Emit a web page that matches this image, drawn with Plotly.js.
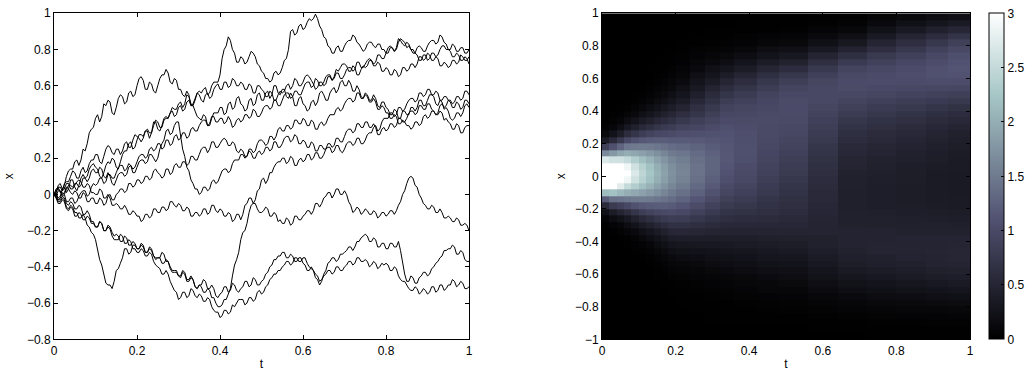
<!DOCTYPE html>
<html>
<head>
<meta charset="utf-8">
<script src="https://cdn.plot.ly/plotly-3.0.1.min.js"></script>
<style>
  html, body { margin: 0; padding: 0; background: #ffffff; }
  #chart { width: 1034px; height: 371px; }
</style>
</head>
<body>
<div id="chart"></div>
<script>
// Sample paths x(t) at t = 0, 0.01, ..., 1 ...
const path1 = [0,0.05,0.03,0.10,0.14,0.18,0.16,0.25,0.28,0.36,
  0.42,0.40,0.50,0.52,0.45,0.48,0.55,0.50,0.56,0.54,
  0.60,0.65,0.58,0.62,0.57,0.60,0.66,0.69,0.62,0.64,
  0.58,0.55,0.57,0.49,0.46,0.42,0.44,0.38,0.42,0.45,
  0.48,0.44,0.50,0.47,0.53,0.50,0.46,0.52,0.49,0.55,
  0.52,0.56,0.53,0.60,0.56,0.58,0.54,0.56,0.49,0.53,
  0.50,0.46,0.51,0.49,0.56,0.55,0.52,0.58,0.56,0.62,
  0.60,0.63,0.57,0.60,0.54,0.56,0.52,0.55,0.49,0.51,
  0.48,0.44,0.47,0.42,0.46,0.44,0.48,0.46,0.52,0.49,
  0.52,0.55,0.50,0.52,0.47,0.46,0.41,0.45,0.43,0.49,
  0.48];
const path2 = [0,-0.02,0.03,0.01,0.08,0.04,0.05,0.11,0.10,0.16,
  0.15,0.10,0.12,0.18,0.20,0.15,0.18,0.24,0.28,0.25,
  0.30,0.33,0.35,0.31,0.40,0.36,0.38,0.43,0.45,0.47,
  0.50,0.48,0.55,0.50,0.52,0.57,0.58,0.55,0.60,0.62,
  0.66,0.80,0.87,0.80,0.73,0.76,0.72,0.76,0.78,0.72,
  0.68,0.64,0.62,0.67,0.66,0.70,0.75,0.90,0.88,0.93,
  0.91,0.95,0.96,0.995,0.93,0.87,0.82,0.78,0.81,0.79,
  0.82,0.85,0.88,0.84,0.81,0.80,0.84,0.82,0.83,0.80,
  0.78,0.81,0.79,0.84,0.85,0.81,0.80,0.78,0.82,0.79,
  0.82,0.85,0.83,0.88,0.84,0.80,0.76,0.78,0.74,0.76,
  0.72];
const path3 = [0,0.04,0.02,0.07,0.10,0.12,0.09,0.15,0.13,0.19,
  0.22,0.18,0.21,0.27,0.23,0.25,0.22,0.28,0.26,0.30,
  0.32,0.29,0.35,0.34,0.38,0.40,0.37,0.42,0.45,0.43,
  0.48,0.46,0.51,0.49,0.53,0.55,0.51,0.56,0.54,0.60,
  0.58,0.62,0.59,0.64,0.60,0.62,0.58,0.61,0.56,0.60,
  0.58,0.54,0.57,0.52,0.55,0.56,0.60,0.58,0.64,0.60,
  0.62,0.66,0.63,0.58,0.62,0.60,0.65,0.63,0.69,0.70,
  0.72,0.68,0.71,0.66,0.69,0.70,0.74,0.72,0.77,0.75,
  0.78,0.82,0.79,0.86,0.83,0.84,0.80,0.78,0.74,0.77,
  0.74,0.78,0.76,0.80,0.82,0.80,0.83,0.79,0.81,0.78,
  0.80];
const path4 = [0,0.02,-0.01,0.03,0.05,0.06,0.04,0.09,0.07,0.13,
  0.12,0.15,0.10,0.12,0.06,0.08,0.12,0.10,0.15,0.14,
  0.18,0.22,0.20,0.25,0.24,0.28,0.25,0.30,0.27,0.32,
  0.30,0.34,0.31,0.36,0.35,0.38,0.41,0.38,0.43,0.40,
  0.42,0.39,0.43,0.37,0.41,0.40,0.44,0.42,0.47,0.43,
  0.45,0.49,0.47,0.52,0.49,0.52,0.56,0.53,0.57,0.55,
  0.58,0.62,0.59,0.64,0.60,0.62,0.66,0.63,0.67,0.64,
  0.66,0.70,0.68,0.73,0.70,0.72,0.75,0.71,0.73,0.68,
  0.70,0.66,0.69,0.65,0.70,0.68,0.72,0.70,0.76,0.74,
  0.78,0.74,0.76,0.71,0.73,0.70,0.74,0.72,0.77,0.74,
  0.76];
const path5 = [0,-0.03,0.01,-0.04,-0.02,-0.05,-0.01,0.02,-0.01,0.04,
  0.05,0.09,0.06,0.11,0.09,0.12,0.16,0.13,0.17,0.12,
  0.15,0.19,0.17,0.22,0.20,0.20,0.28,0.35,0.33,0.38,
  0.40,0.25,0.15,0.08,0.03,0.00,0.04,0.02,0.07,0.06,
  0.10,0.14,0.12,0.17,0.19,0.22,0.20,0.25,0.23,0.28,
  0.30,0.27,0.32,0.30,0.36,0.35,0.38,0.36,0.41,0.39,
  0.42,0.38,0.41,0.36,0.39,0.38,0.42,0.44,0.47,0.46,
  0.50,0.53,0.51,0.56,0.53,0.55,0.51,0.53,0.47,0.49,
  0.45,0.42,0.44,0.39,0.41,0.38,0.36,0.40,0.38,0.43,
  0.42,0.46,0.44,0.49,0.48,0.52,0.50,0.54,0.52,0.57,
  0.55];
const path6 = [0,0.03,0.00,0.04,0.01,0.02,-0.02,0.01,-0.04,-0.02,
  -0.05,-0.02,-0.06,-0.01,-0.03,0.00,0.03,0.01,0.06,0.04,
  0.08,0.06,0.10,0.08,0.13,0.12,0.09,0.14,0.11,0.16,
  0.15,0.18,0.16,0.21,0.19,0.22,0.26,0.23,0.29,0.26,
  0.28,0.31,0.27,0.29,0.24,0.25,0.21,0.24,0.20,0.23,
  0.22,0.26,0.24,0.29,0.26,0.28,0.32,0.29,0.33,0.28,
  0.30,0.26,0.29,0.24,0.27,0.25,0.28,0.26,0.31,0.29,
  0.32,0.36,0.34,0.39,0.37,0.40,0.37,0.39,0.33,0.36,
  0.35,0.39,0.37,0.42,0.40,0.42,0.46,0.44,0.49,0.47,
  0.50,0.47,0.44,0.46,0.41,0.40,0.36,0.39,0.34,0.37,
  0.38];
const path7 = [0,-0.03,-0.01,-0.05,-0.04,-0.08,-0.06,-0.11,-0.09,-0.15,
  -0.18,-0.15,-0.20,-0.17,-0.21,-0.22,-0.26,-0.23,-0.28,-0.26,
  -0.30,-0.28,-0.32,-0.30,-0.34,-0.35,-0.32,-0.37,-0.40,-0.42,
  -0.45,-0.43,-0.48,-0.46,-0.51,-0.50,-0.54,-0.52,-0.57,-0.60,
  -0.62,-0.58,-0.55,-0.45,-0.36,-0.25,-0.20,-0.10,-0.05,0.02,
  0.08,0.06,0.12,0.15,0.18,0.20,0.17,0.21,0.16,0.19,
  0.18,0.22,0.19,0.23,0.20,0.22,0.26,0.23,0.27,0.24,
  0.25,0.29,0.27,0.31,0.28,0.30,0.34,0.37,0.35,0.40,
  0.42,0.45,0.43,0.48,0.46,0.50,0.53,0.51,0.56,0.54,
  0.58,0.55,0.57,0.52,0.54,0.52,0.48,0.51,0.47,0.52,
  0.50];
const path8 = [0,0.04,0.02,0.06,0.03,0.05,0.08,0.04,0.06,0.01,
  0.00,0.03,-0.02,0.00,-0.06,-0.05,-0.08,-0.06,-0.11,-0.09,
  -0.12,-0.15,-0.11,-0.13,-0.08,-0.10,-0.07,-0.09,-0.04,-0.06,
  -0.05,-0.09,-0.07,-0.12,-0.10,-0.12,-0.08,-0.11,-0.06,-0.09,
  -0.08,-0.12,-0.10,-0.15,-0.11,-0.14,-0.06,-0.02,-0.05,-0.08,
  -0.10,-0.07,-0.12,-0.10,-0.15,-0.16,-0.13,-0.17,-0.12,-0.14,
  -0.12,-0.09,-0.11,-0.05,-0.07,-0.02,0.01,-0.02,0.03,0.00,
  0.02,-0.04,-0.10,-0.07,-0.11,-0.08,-0.11,-0.09,-0.13,-0.10,
  -0.12,-0.09,-0.11,-0.06,0.00,0.06,0.10,0.05,0.00,-0.05,
  -0.08,-0.06,-0.10,-0.08,-0.13,-0.12,-0.15,-0.13,-0.17,-0.16,
  -0.20];
const path9 = [0,-0.04,-0.02,-0.07,-0.06,-0.10,-0.13,-0.11,-0.17,-0.21,
  -0.25,-0.36,-0.45,-0.50,-0.52,-0.42,-0.38,-0.30,-0.33,-0.28,
  -0.30,-0.27,-0.32,-0.29,-0.34,-0.35,-0.38,-0.36,-0.41,-0.43,
  -0.45,-0.42,-0.47,-0.45,-0.51,-0.50,-0.47,-0.52,-0.50,-0.56,
  -0.55,-0.51,-0.54,-0.49,-0.53,-0.52,-0.48,-0.51,-0.46,-0.50,
  -0.48,-0.44,-0.40,-0.36,-0.34,-0.32,-0.35,-0.33,-0.37,-0.35,
  -0.38,-0.42,-0.40,-0.46,-0.50,-0.44,-0.38,-0.35,-0.37,-0.33,
  -0.32,-0.29,-0.31,-0.26,-0.24,-0.22,-0.26,-0.24,-0.29,-0.27,
  -0.30,-0.27,-0.29,-0.26,-0.38,-0.48,-0.45,-0.49,-0.46,-0.43,
  -0.45,-0.41,-0.38,-0.35,-0.31,-0.30,-0.28,-0.33,-0.31,-0.36,
  -0.37];
const path10 = [0,-0.05,-0.03,-0.08,-0.07,-0.12,-0.10,-0.14,-0.12,-0.16,
  -0.18,-0.15,-0.20,-0.18,-0.23,-0.25,-0.22,-0.27,-0.25,-0.30,
  -0.32,-0.30,-0.34,-0.32,-0.37,-0.40,-0.44,-0.42,-0.48,-0.53,
  -0.58,-0.54,-0.57,-0.52,-0.56,-0.55,-0.59,-0.57,-0.62,-0.65,
  -0.68,-0.64,-0.66,-0.61,-0.60,-0.58,-0.61,-0.57,-0.59,-0.54,
  -0.55,-0.51,-0.47,-0.44,-0.42,-0.40,-0.37,-0.39,-0.35,-0.37,
  -0.35,-0.38,-0.41,-0.44,-0.48,-0.45,-0.42,-0.44,-0.40,-0.42,
  -0.40,-0.37,-0.39,-0.35,-0.37,-0.36,-0.40,-0.37,-0.41,-0.38,
  -0.38,-0.42,-0.40,-0.45,-0.48,-0.50,-0.53,-0.51,-0.55,-0.52,
  -0.55,-0.51,-0.54,-0.50,-0.53,-0.50,-0.47,-0.51,-0.48,-0.52,
  -0.51];

// ... and the in-between values at t = 0.005, 0.015, ..., 0.995
const path1Mid = [0.01,0.06,0.05,0.13,0.14,0.19,0.19,0.24,0.34,0.37,
  0.44,0.43,0.49,0.51,0.44,0.53,0.54,0.51,0.57,0.55,
  0.64,0.63,0.58,0.61,0.56,0.64,0.66,0.67,0.61,0.63,
  0.58,0.54,0.55,0.49,0.43,0.41,0.43,0.38,0.45,0.45,
  0.48,0.45,0.51,0.48,0.54,0.49,0.47,0.53,0.50,0.56,
  0.52,0.57,0.55,0.60,0.55,0.58,0.53,0.54,0.49,0.54,
  0.49,0.47,0.52,0.51,0.57,0.52,0.56,0.59,0.58,0.63,
  0.60,0.61,0.57,0.58,0.53,0.55,0.52,0.53,0.48,0.51,
  0.47,0.44,0.46,0.42,0.46,0.44,0.48,0.48,0.52,0.49,
  0.55,0.54,0.49,0.51,0.48,0.42,0.42,0.45,0.45,0.50];
const path2Mid = [0.01,-0.01,0.04,0.03,0.08,0.02,0.09,0.09,0.14,0.17,
  0.14,0.09,0.16,0.17,0.19,0.14,0.22,0.24,0.29,0.26,
  0.33,0.32,0.35,0.34,0.40,0.35,0.42,0.42,0.48,0.47,
  0.51,0.50,0.54,0.49,0.56,0.56,0.59,0.56,0.62,0.62,
  0.75,0.82,0.85,0.78,0.73,0.75,0.73,0.79,0.76,0.71,
  0.67,0.64,0.63,0.68,0.67,0.74,0.80,0.91,0.89,0.94,
  0.92,0.97,0.97,0.97,0.91,0.86,0.81,0.78,0.82,0.79,
  0.84,0.85,0.87,0.83,0.79,0.83,0.84,0.81,0.83,0.80,
  0.78,0.81,0.80,0.86,0.84,0.82,0.78,0.81,0.81,0.79,
  0.84,0.85,0.84,0.87,0.83,0.79,0.76,0.77,0.74,0.75];
const path3Mid = [0.03,0.01,0.06,0.07,0.13,0.09,0.13,0.12,0.17,0.19,
  0.22,0.17,0.25,0.26,0.22,0.25,0.24,0.29,0.26,0.33,
  0.31,0.31,0.36,0.34,0.41,0.37,0.41,0.42,0.46,0.44,
  0.49,0.47,0.52,0.50,0.56,0.52,0.55,0.53,0.58,0.61,
  0.58,0.62,0.60,0.63,0.60,0.61,0.58,0.60,0.56,0.60,
  0.57,0.54,0.56,0.52,0.57,0.57,0.61,0.60,0.63,0.60,
  0.65,0.65,0.61,0.59,0.62,0.61,0.65,0.65,0.68,0.72,
  0.71,0.68,0.70,0.66,0.71,0.71,0.74,0.73,0.77,0.75,
  0.81,0.81,0.81,0.85,0.82,0.83,0.80,0.77,0.74,0.77,
  0.75,0.78,0.77,0.82,0.80,0.80,0.82,0.79,0.81,0.78];
const path4Mid = [-0.01,0.02,0.00,0.05,0.04,0.06,0.05,0.09,0.09,0.14,
  0.12,0.14,0.09,0.10,0.05,0.11,0.12,0.11,0.16,0.15,
  0.21,0.22,0.21,0.26,0.25,0.28,0.26,0.30,0.28,0.33,
  0.31,0.34,0.32,0.37,0.35,0.40,0.41,0.39,0.43,0.40,
  0.42,0.40,0.41,0.38,0.42,0.41,0.44,0.43,0.46,0.43,
  0.48,0.49,0.48,0.52,0.49,0.55,0.56,0.54,0.57,0.55,
  0.61,0.62,0.60,0.63,0.60,0.65,0.66,0.64,0.67,0.64,
  0.69,0.70,0.69,0.73,0.70,0.74,0.74,0.71,0.72,0.68,
  0.69,0.66,0.68,0.66,0.70,0.69,0.72,0.72,0.76,0.75,
  0.77,0.74,0.75,0.71,0.72,0.71,0.74,0.73,0.76,0.74];
const path5Mid = [0.00,-0.02,0.00,-0.04,-0.02,-0.04,0.01,0.02,0.00,0.06,
  0.06,0.09,0.07,0.11,0.09,0.15,0.16,0.14,0.16,0.12,
  0.18,0.19,0.18,0.22,0.18,0.25,0.30,0.36,0.34,0.40,
  0.33,0.21,0.13,0.06,0.03,0.01,0.04,0.03,0.08,0.07,
  0.13,0.14,0.13,0.19,0.19,0.22,0.21,0.25,0.24,0.30,
  0.29,0.28,0.32,0.32,0.37,0.35,0.38,0.37,0.41,0.39,
  0.41,0.38,0.40,0.36,0.40,0.39,0.44,0.44,0.48,0.47,
  0.52,0.53,0.52,0.56,0.53,0.54,0.51,0.51,0.47,0.48,
  0.45,0.42,0.43,0.39,0.40,0.38,0.37,0.40,0.39,0.44,
  0.43,0.46,0.45,0.50,0.49,0.52,0.51,0.54,0.53,0.57];
const path6Mid = [0.02,0.02,0.01,0.03,0.00,0.01,-0.02,0.00,-0.04,-0.02,
  -0.05,-0.03,-0.05,0.00,-0.03,0.01,0.03,0.02,0.06,0.05,
  0.08,0.07,0.10,0.09,0.14,0.11,0.10,0.14,0.12,0.17,
  0.15,0.18,0.17,0.21,0.19,0.25,0.26,0.25,0.29,0.26,
  0.30,0.30,0.27,0.28,0.23,0.24,0.21,0.23,0.20,0.24,
  0.23,0.26,0.25,0.29,0.26,0.31,0.32,0.30,0.32,0.28,
  0.29,0.26,0.28,0.24,0.27,0.25,0.28,0.27,0.31,0.29,
  0.35,0.36,0.35,0.39,0.37,0.40,0.37,0.37,0.33,0.37,
  0.36,0.39,0.38,0.42,0.40,0.45,0.46,0.45,0.49,0.47,
  0.50,0.46,0.44,0.45,0.42,0.39,0.36,0.38,0.34,0.38];
const path7Mid = [-0.02,-0.03,-0.02,-0.06,-0.05,-0.08,-0.07,-0.11,-0.11,-0.15,
  -0.18,-0.16,-0.20,-0.18,-0.23,-0.23,-0.26,-0.24,-0.28,-0.27,
  -0.30,-0.29,-0.32,-0.31,-0.36,-0.35,-0.33,-0.37,-0.42,-0.42,
  -0.46,-0.44,-0.48,-0.47,-0.52,-0.51,-0.54,-0.53,-0.57,-0.62,
  -0.61,-0.58,-0.52,-0.39,-0.32,-0.21,-0.16,-0.06,-0.03,0.03,
  0.09,0.08,0.12,0.17,0.18,0.20,0.18,0.20,0.16,0.20,
  0.19,0.22,0.20,0.23,0.20,0.25,0.26,0.24,0.27,0.23,
  0.28,0.29,0.28,0.31,0.28,0.33,0.34,0.38,0.36,0.42,
  0.42,0.45,0.44,0.48,0.47,0.52,0.53,0.52,0.56,0.55,
  0.58,0.55,0.56,0.52,0.54,0.51,0.48,0.50,0.48,0.52];
const path8Mid = [0.01,0.04,0.03,0.06,0.03,0.07,0.07,0.04,0.05,0.01,
  0.00,0.02,-0.02,-0.02,-0.06,-0.06,-0.08,-0.08,-0.11,-0.10,
  -0.12,-0.14,-0.11,-0.12,-0.08,-0.10,-0.07,-0.08,-0.04,-0.07,
  -0.06,-0.09,-0.08,-0.12,-0.10,-0.11,-0.08,-0.10,-0.06,-0.10,
  -0.09,-0.12,-0.11,-0.14,-0.11,-0.11,-0.05,-0.02,-0.05,-0.10,
  -0.09,-0.08,-0.12,-0.11,-0.14,-0.16,-0.14,-0.16,-0.12,-0.14,
  -0.11,-0.09,-0.09,-0.05,-0.05,-0.01,0.01,0.00,0.03,0.00,
  0.00,-0.06,-0.09,-0.08,-0.10,-0.09,-0.11,-0.10,-0.12,-0.10,
  -0.11,-0.09,-0.09,-0.04,0.02,0.09,0.09,0.04,-0.02,-0.06,
  -0.08,-0.07,-0.10,-0.10,-0.13,-0.13,-0.15,-0.14,-0.17,-0.17];
const path9Mid = [-0.01,-0.04,-0.03,-0.08,-0.07,-0.10,-0.13,-0.13,-0.18,-0.22,
  -0.31,-0.39,-0.49,-0.50,-0.48,-0.41,-0.35,-0.30,-0.32,-0.28,
  -0.30,-0.28,-0.32,-0.30,-0.35,-0.35,-0.38,-0.37,-0.43,-0.43,
  -0.45,-0.43,-0.47,-0.47,-0.52,-0.50,-0.48,-0.52,-0.52,-0.57,
  -0.54,-0.51,-0.53,-0.50,-0.54,-0.51,-0.48,-0.50,-0.47,-0.50,
  -0.47,-0.43,-0.39,-0.36,-0.34,-0.32,-0.35,-0.34,-0.37,-0.35,
  -0.39,-0.42,-0.42,-0.47,-0.48,-0.42,-0.37,-0.35,-0.36,-0.33,
  -0.31,-0.29,-0.29,-0.26,-0.23,-0.23,-0.26,-0.25,-0.29,-0.27,
  -0.30,-0.27,-0.29,-0.31,-0.44,-0.48,-0.46,-0.49,-0.45,-0.43,
  -0.44,-0.40,-0.37,-0.34,-0.31,-0.30,-0.29,-0.33,-0.32,-0.37];
const path10Mid = [-0.02,-0.05,-0.04,-0.09,-0.08,-0.12,-0.11,-0.14,-0.13,-0.16,
  -0.18,-0.16,-0.20,-0.19,-0.25,-0.25,-0.23,-0.27,-0.26,-0.30,
  -0.32,-0.31,-0.34,-0.33,-0.39,-0.41,-0.44,-0.44,-0.51,-0.54,
  -0.57,-0.54,-0.56,-0.53,-0.57,-0.56,-0.59,-0.58,-0.64,-0.65,
  -0.67,-0.64,-0.65,-0.62,-0.58,-0.58,-0.60,-0.57,-0.58,-0.53,
  -0.54,-0.50,-0.46,-0.44,-0.42,-0.39,-0.37,-0.38,-0.35,-0.37,
  -0.35,-0.40,-0.42,-0.45,-0.47,-0.44,-0.42,-0.43,-0.40,-0.42,
  -0.39,-0.37,-0.38,-0.35,-0.37,-0.37,-0.39,-0.38,-0.40,-0.39,
  -0.39,-0.42,-0.41,-0.47,-0.48,-0.52,-0.53,-0.52,-0.54,-0.53,
  -0.54,-0.51,-0.53,-0.50,-0.52,-0.50,-0.48,-0.50,-0.49,-0.52];

const paths = [path1, path2, path3, path4, path5, path6, path7, path8, path9, path10];
const pathMids = [path1Mid, path2Mid, path3Mid, path4Mid, path5Mid,
  path6Mid, path7Mid, path8Mid, path9Mid, path10Mid];

// Density p(t, x): time-cell boundaries, then one column of 50 x-cells
// (x = -0.98 ... 0.98, step 0.04) per time cell.
const tEdges = [0,0.02,0.04,0.06,0.08,0.10,0.12,0.14,0.16,0.18,0.20,
  0.24,0.28,0.32,0.36,0.42,0.48,0.56,0.64,0.72,0.80,0.88,0.94,1.00];
const density = [
  [0,0,0,0,0,0,0,0,0,0,0,0,0,0,0,0,0,0.02,0.07,0.22,0.57,1.2,2.15,3.2,4.0,4.2,3.65,2.7,1.65,0.85,0.37,0.13,0.04,0.01,0,0,0,0,0,0,0,0,0,0,0,0,0,0,0,0],
  [0,0,0,0,0,0,0,0,0,0,0,0,0,0,0,0,0.02,0.06,0.16,0.38,0.78,1.41,2.2,3.0,3.55,3.7,3.33,2.6,1.8,1.07,0.56,0.25,0.1,0.035,0.01,0,0,0,0,0,0,0,0,0,0,0,0,0,0,0],
  [0,0,0,0,0,0,0,0,0,0,0,0,0,0,0,0.015,0.04,0.1,0.23,0.48,0.87,1.43,2.1,2.75,3.2,3.35,3.12,2.6,1.93,1.28,0.76,0.4,0.19,0.08,0.03,0.01,0,0,0,0,0,0,0,0,0,0,0,0,0,0],
  [0,0,0,0,0,0,0,0,0,0,0,0,0,0,0.01,0.03,0.08,0.17,0.33,0.59,0.97,1.46,2.0,2.5,2.87,3.0,2.87,2.5,2.0,1.46,0.97,0.59,0.33,0.17,0.08,0.03,0.01,0,0,0,0,0,0,0,0,0,0,0,0,0],
  [0,0,0,0,0,0,0,0,0,0,0,0,0,0.01,0.03,0.07,0.14,0.26,0.45,0.72,1.08,1.5,1.94,2.33,2.6,2.7,2.6,2.33,1.94,1.5,1.08,0.72,0.45,0.26,0.14,0.07,0.03,0.01,0,0,0,0,0,0,0,0,0,0,0,0],
  [0,0,0,0,0,0,0,0,0,0,0,0,0.01,0.03,0.06,0.12,0.21,0.36,0.56,0.83,1.15,1.51,1.87,2.17,2.38,2.45,2.38,2.17,1.87,1.51,1.15,0.83,0.56,0.36,0.21,0.12,0.06,0.03,0.01,0,0,0,0,0,0,0,0,0,0,0],
  [0,0,0,0,0,0,0,0,0,0,0,0.01,0.03,0.06,0.1,0.18,0.28,0.44,0.64,0.9,1.19,1.5,1.79,2.03,2.19,2.25,2.19,2.03,1.79,1.5,1.19,0.9,0.64,0.44,0.28,0.18,0.1,0.06,0.03,0.01,0,0,0,0,0,0,0,0,0,0],
  [0,0,0,0,0,0,0,0,0,0.01,0.02,0.03,0.06,0.1,0.16,0.25,0.37,0.53,0.73,0.96,1.21,1.46,1.7,1.88,2.0,2.05,2.0,1.88,1.7,1.46,1.21,0.96,0.73,0.53,0.37,0.25,0.16,0.1,0.06,0.03,0.02,0.01,0,0,0,0,0,0,0,0],
  [0,0,0,0,0,0,0,0,0.01,0.02,0.03,0.06,0.09,0.15,0.22,0.32,0.45,0.6,0.79,0.99,1.21,1.42,1.6,1.75,1.85,1.88,1.85,1.75,1.6,1.42,1.21,0.99,0.79,0.6,0.45,0.32,0.22,0.15,0.09,0.06,0.03,0.02,0.01,0,0,0,0,0,0,0],
  [0,0,0,0,0,0,0,0.01,0.02,0.04,0.06,0.09,0.14,0.2,0.28,0.39,0.52,0.66,0.83,1.01,1.19,1.36,1.5,1.62,1.69,1.72,1.69,1.62,1.5,1.36,1.19,1.01,0.83,0.66,0.52,0.39,0.28,0.2,0.14,0.09,0.06,0.04,0.02,0.01,0,0,0,0,0,0],
  [0,0,0,0,0,0.01,0.01,0.02,0.03,0.05,0.08,0.11,0.16,0.23,0.31,0.41,0.53,0.66,0.81,0.97,1.12,1.27,1.4,1.5,1.57,1.6,1.58,1.53,1.45,1.33,1.19,1.05,0.9,0.76,0.62,0.49,0.38,0.29,0.21,0.15,0.1,0.07,0.045,0.03,0.02,0.01,0,0,0,0],
  [0,0,0,0,0.01,0.01,0.02,0.03,0.04,0.07,0.1,0.13,0.18,0.25,0.32,0.41,0.51,0.62,0.75,0.88,1.01,1.13,1.25,1.33,1.4,1.43,1.43,1.4,1.35,1.27,1.17,1.07,0.95,0.85,0.73,0.63,0.53,0.43,0.34,0.27,0.2,0.14,0.09,0.06,0.04,0.02,0.01,0,0,0],
  [0,0,0.01,0.01,0.01,0.02,0.03,0.04,0.06,0.08,0.12,0.16,0.21,0.26,0.33,0.4,0.49,0.58,0.68,0.79,0.89,1.0,1.09,1.17,1.23,1.27,1.28,1.28,1.25,1.2,1.14,1.08,1.01,0.93,0.85,0.76,0.67,0.58,0.48,0.38,0.29,0.21,0.14,0.09,0.05,0.03,0.01,0.01,0,0],
  [0,0,0.01,0.01,0.015,0.02,0.035,0.05,0.07,0.1,0.14,0.18,0.23,0.28,0.34,0.4,0.47,0.54,0.62,0.7,0.78,0.86,0.94,1.0,1.06,1.1,1.13,1.15,1.15,1.14,1.12,1.1,1.06,1.02,0.96,0.9,0.82,0.72,0.61,0.5,0.39,0.28,0.19,0.12,0.07,0.04,0.02,0.01,0.005,0],
  [0,0,0.01,0.01,0.02,0.03,0.05,0.07,0.09,0.12,0.16,0.2,0.25,0.3,0.36,0.41,0.47,0.53,0.6,0.67,0.74,0.8,0.87,0.92,0.97,1.0,1.03,1.06,1.07,1.07,1.06,1.06,1.04,1.01,0.98,0.94,0.88,0.8,0.71,0.61,0.5,0.38,0.27,0.18,0.11,0.06,0.04,0.02,0.01,0],
  [0,0,0.01,0.02,0.03,0.04,0.06,0.09,0.11,0.15,0.19,0.24,0.28,0.33,0.38,0.43,0.48,0.53,0.58,0.63,0.68,0.72,0.77,0.8,0.84,0.88,0.91,0.93,0.95,0.97,0.99,1.0,1.0,1.01,1.0,0.98,0.95,0.9,0.83,0.75,0.64,0.5,0.38,0.26,0.17,0.1,0.06,0.02,0.01,0],
  [0,0.005,0.01,0.02,0.035,0.05,0.07,0.1,0.13,0.17,0.21,0.26,0.3,0.35,0.4,0.44,0.48,0.52,0.56,0.6,0.63,0.66,0.69,0.72,0.75,0.78,0.81,0.84,0.87,0.9,0.93,0.96,0.98,1.0,1.01,1.02,1.01,0.98,0.93,0.85,0.74,0.6,0.46,0.32,0.21,0.12,0.07,0.03,0.01,0.005],
  [0,0.01,0.02,0.03,0.05,0.08,0.11,0.15,0.19,0.24,0.28,0.33,0.37,0.41,0.44,0.46,0.48,0.49,0.5,0.52,0.53,0.55,0.56,0.58,0.6,0.62,0.65,0.67,0.7,0.73,0.77,0.8,0.84,0.87,0.91,0.94,0.97,0.98,0.97,0.94,0.87,0.76,0.63,0.48,0.34,0.22,0.14,0.07,0.03,0.01],
  [0.005,0.01,0.02,0.04,0.07,0.1,0.14,0.19,0.24,0.3,0.35,0.4,0.43,0.46,0.47,0.47,0.47,0.46,0.45,0.44,0.43,0.43,0.43,0.44,0.45,0.46,0.48,0.5,0.53,0.56,0.6,0.64,0.69,0.74,0.8,0.86,0.92,0.98,1.01,1.02,0.99,0.92,0.79,0.64,0.47,0.32,0.2,0.11,0.05,0.02],
  [0.01,0.01,0.03,0.05,0.08,0.12,0.16,0.22,0.27,0.33,0.38,0.43,0.45,0.48,0.48,0.47,0.47,0.45,0.44,0.43,0.41,0.41,0.41,0.41,0.42,0.43,0.44,0.46,0.49,0.51,0.55,0.58,0.63,0.68,0.74,0.8,0.87,0.94,0.99,1.03,1.02,0.98,0.88,0.77,0.62,0.48,0.35,0.23,0.14,0.07],
  [0.01,0.02,0.03,0.06,0.09,0.13,0.18,0.24,0.3,0.36,0.41,0.45,0.47,0.49,0.49,0.48,0.46,0.44,0.43,0.41,0.4,0.39,0.39,0.39,0.4,0.4,0.41,0.43,0.45,0.47,0.5,0.54,0.58,0.63,0.69,0.76,0.83,0.91,0.98,1.03,1.05,1.03,0.96,0.87,0.75,0.62,0.48,0.34,0.22,0.12],
  [0.01,0.02,0.04,0.06,0.1,0.15,0.2,0.26,0.33,0.39,0.44,0.47,0.49,0.5,0.49,0.48,0.46,0.44,0.42,0.4,0.38,0.37,0.37,0.37,0.37,0.37,0.38,0.4,0.41,0.43,0.46,0.49,0.53,0.58,0.64,0.71,0.79,0.88,0.96,1.04,1.08,1.08,1.04,0.98,0.88,0.75,0.6,0.44,0.29,0.16],
  [0.01,0.02,0.04,0.07,0.11,0.16,0.22,0.28,0.35,0.41,0.46,0.49,0.51,0.51,0.5,0.48,0.46,0.43,0.41,0.39,0.37,0.36,0.35,0.35,0.35,0.35,0.36,0.37,0.38,0.4,0.42,0.45,0.49,0.54,0.6,0.67,0.76,0.85,0.95,1.04,1.1,1.12,1.1,1.06,0.98,0.86,0.7,0.52,0.35,0.2]
];
const colorbarTicks = [0, 0.5, 1, 1.5, 2, 2.5, 3];

// merge each path with its in-between values: t = 0, 0.005, 0.01, ...
function mergePath(main, mid) {
  const out = [];
  main.forEach((v, i) => {
    out.push(v);
    if (i < mid.length) out.push(mid[i]);
  });
  return out;
}

// rows = x cells, columns = time cells
const z = density[0].map((_, r) => density.map(col => col[r]));

// MATLAB-style "bone" colormap
const bone = [
  [0, 'rgb(0,0,0)'],
  [0.365, 'rgb(81,81,113)'],
  [0.746, 'rgb(166,198,198)'],
  [1, 'rgb(255,255,255)']
];

const traces = paths.map((p, k) => ({
  type: 'scatter', mode: 'lines',
  x0: 0, dx: 0.005, y: mergePath(p, pathMids[k]),
  xaxis: 'x', yaxis: 'y',
  line: { color: '#000000', width: 1 },
  hoverinfo: 'skip', showlegend: false
}));

traces.push({
  type: 'heatmap',
  x: tEdges, y0: -0.98, dy: 0.04, z: z,
  xaxis: 'x2', yaxis: 'y2',
  colorscale: bone, zmin: 0, zmax: 3, zsmooth: false,
  colorbar: {
    x: 989 / 1034, xanchor: 'left', xpad: 0,
    y: 0.0854, yanchor: 'bottom', ypad: 0,
    len: 0.879, lenmode: 'fraction',
    thickness: 15, thicknessmode: 'pixels',
    outlinewidth: 1, outlinecolor: '#000000',
    tickmode: 'array', tickvals: colorbarTicks,
    ticks: 'inside', ticklen: 3, tickcolor: '#000000',
    tickfont: { size: 12, color: '#000000' }
  },
  hoverinfo: 'skip'
});

const axisStyle = {
  showline: true, linecolor: '#000000', linewidth: 1,
  mirror: 'ticks', ticks: 'inside', ticklen: 4, tickcolor: '#000000',
  showgrid: false, zeroline: false,
  tickfont: { size: 12, color: '#000000' }
};

const layout = {
  width: 1034, height: 371,
  margin: { l: 0, r: 0, t: 0, b: 0 },
  paper_bgcolor: '#ffffff', plot_bgcolor: '#ffffff',
  font: { family: 'Liberation Sans, Arial, sans-serif', size: 12, color: '#000000' },
  showlegend: false,
  xaxis: Object.assign({}, axisStyle, {
    domain: [54 / 1034, 469 / 1034], range: [0, 1], dtick: 0.2, tick0: 0,
    anchor: 'y', title: { text: 't', font: { size: 12 }, standoff: 2 }
  }),
  yaxis: Object.assign({}, axisStyle, {
    domain: [0.0854, 0.9642], range: [-0.8, 1], dtick: 0.2, tick0: 0,
    anchor: 'x', title: { text: 'x', font: { size: 12 }, standoff: 10 }
  }),
  xaxis2: Object.assign({}, axisStyle, {
    domain: [602 / 1034, 970 / 1034], range: [0, 1], dtick: 0.2, tick0: 0,
    anchor: 'y2', title: { text: 't', font: { size: 12 }, standoff: 2 }
  }),
  yaxis2: Object.assign({}, axisStyle, {
    domain: [0.0854, 0.9642], range: [-1, 1], dtick: 0.2, tick0: 0,
    anchor: 'x2', title: { text: 'x', font: { size: 12 }, standoff: 6 }
  })
};

Plotly.newPlot('chart', traces, layout, { staticPlot: true, displayModeBar: false });
</script>
</body>
</html>
